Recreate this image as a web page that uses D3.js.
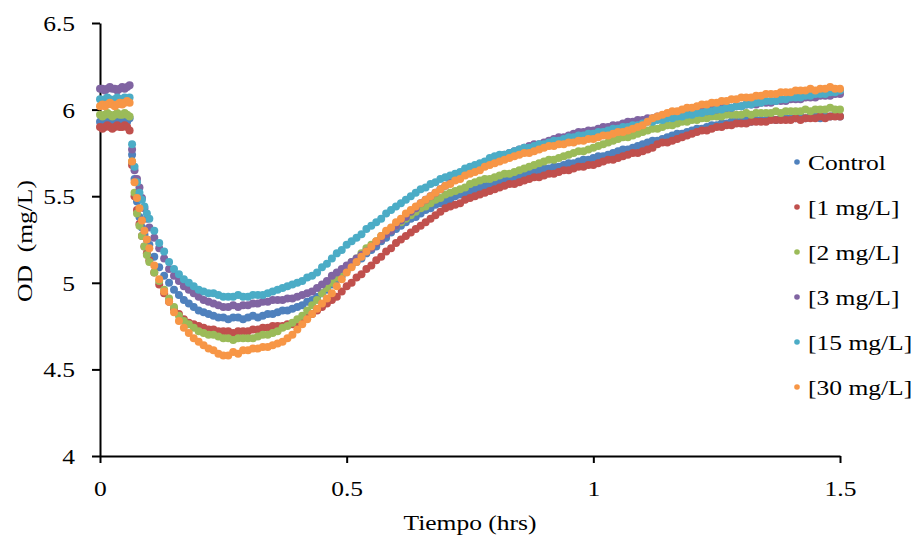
<!DOCTYPE html>
<html>
<head>
<meta charset="utf-8">
<script src="https://cdn.jsdelivr.net/npm/d3@7"></script>
<style>
html,body{margin:0;padding:0;background:#fff;}
svg{display:block;font-family:"Liberation Serif","Times New Roman",serif;}
</style>
</head>
<body>
<svg id="chart" width="919" height="539"></svg>
<script>
// ---------- DATA ----------
const times = [0,0.005,0.01,0.015,0.02,0.025,0.03,0.035,0.04,0.045,0.05,0.055,0.06,0.065,0.07,0.075,0.08,0.085,0.09,0.095,0.1,
0.11,0.12,0.13,0.14,0.15,0.16,0.17,0.18,0.19,0.2,
0.21,0.22,0.23,0.24,0.25,0.26,0.27,0.28,0.29,0.3,
0.31,0.32,0.33,0.34,0.35,0.36,0.37,0.38,0.39,0.4,
0.41,0.42,0.43,0.44,0.45,0.46,0.47,0.48,0.49,0.5,
0.51,0.52,0.53,0.54,0.55,0.56,0.57,0.58,0.59,0.6,
0.61,0.62,0.63,0.64,0.65,0.66,0.67,0.68,0.69,0.7,
0.71,0.72,0.73,0.74,0.75,0.76,0.77,0.78,0.79,0.8,
0.81,0.82,0.83,0.84,0.85,0.86,0.87,0.88,0.89,0.9,
0.91,0.92,0.93,0.94,0.95,0.96,0.97,0.98,0.99,1.0,
1.01,1.02,1.03,1.04,1.05,1.06,1.07,1.08,1.09,1.1,
1.11,1.12,1.13,1.14,1.15,1.16,1.17,1.18,1.19,1.2,
1.21,1.22,1.23,1.24,1.25,1.26,1.27,1.28,1.29,1.3,
1.31,1.32,1.33,1.34,1.35,1.36,1.37,1.38,1.39,1.4,
1.41,1.42,1.43,1.44,1.45,1.46,1.47,1.48,1.49,1.5];

const control = [5.93,5.92,5.93,5.94,5.93,5.92,5.93,5.94,5.93,5.93,5.94,5.93,5.95,
5.74,5.60,5.47,5.38,5.32,5.28,5.25,5.22,
5.15,5.09,5.04,5.00,4.96,4.93,4.90,4.88,4.86,4.84,
4.83,4.82,4.81,4.80,4.80,4.79,4.80,4.80,4.79,4.80,
4.81,4.80,4.81,4.82,4.82,4.83,4.84,4.84,4.85,4.86,
4.87,4.89,4.90,4.92,4.94,4.96,4.99,5.02,5.04,5.07,
5.10,5.12,5.14,5.17,5.19,5.21,5.24,5.26,5.29,5.31,
5.33,5.35,5.37,5.38,5.40,5.42,5.43,5.45,5.46,5.47,
5.48,5.50,5.51,5.52,5.53,5.54,5.55,5.56,5.56,5.57,
5.58,5.59,5.60,5.60,5.61,5.62,5.63,5.64,5.65,5.66,
5.66,5.67,5.67,5.68,5.69,5.69,5.70,5.71,5.71,5.72,
5.73,5.73,5.74,5.75,5.76,5.77,5.77,5.78,5.79,5.80,
5.81,5.82,5.82,5.83,5.84,5.85,5.86,5.86,5.87,5.88,
5.89,5.89,5.90,5.91,5.91,5.92,5.92,5.93,5.93,5.93,
5.94,5.93,5.94,5.94,5.94,5.95,5.94,5.95,5.95,5.95,
5.95,5.96,5.95,5.96,5.96,5.95,5.96,5.96,5.97,5.96];

const mg1 = [5.90,5.89,5.90,5.91,5.90,5.89,5.90,5.91,5.90,5.90,5.91,5.90,5.88,
5.68,5.50,5.42,5.34,5.27,5.21,5.17,5.13,
5.06,4.99,4.94,4.89,4.85,4.82,4.79,4.77,4.76,4.75,
4.74,4.73,4.73,4.72,4.72,4.72,4.71,4.72,4.72,4.72,
4.73,4.73,4.74,4.74,4.75,4.75,4.75,4.76,4.76,4.77,
4.78,4.80,4.82,4.84,4.86,4.88,4.90,4.92,4.95,4.98,
5.00,5.03,5.05,5.08,5.10,5.13,5.15,5.18,5.20,5.23,
5.25,5.27,5.29,5.31,5.33,5.35,5.37,5.39,5.41,5.43,
5.44,5.45,5.46,5.48,5.49,5.50,5.51,5.52,5.53,5.54,
5.55,5.56,5.57,5.57,5.58,5.59,5.60,5.61,5.61,5.62,
5.63,5.63,5.64,5.65,5.65,5.66,5.67,5.67,5.68,5.68,
5.69,5.70,5.71,5.71,5.72,5.73,5.74,5.75,5.75,5.76,
5.77,5.78,5.80,5.81,5.81,5.82,5.83,5.84,5.85,5.86,
5.87,5.88,5.88,5.89,5.90,5.90,5.91,5.91,5.92,5.92,
5.92,5.93,5.93,5.93,5.93,5.94,5.94,5.94,5.94,5.94,
5.95,5.94,5.95,5.95,5.95,5.96,5.95,5.96,5.96,5.96];

const mg2 = [5.97,5.96,5.97,5.98,5.97,5.96,5.97,5.98,5.97,5.97,5.98,5.97,5.96,
5.70,5.52,5.40,5.33,5.27,5.21,5.16,5.12,
5.06,5.01,4.96,4.91,4.86,4.81,4.78,4.76,4.74,4.72,
4.71,4.70,4.70,4.69,4.68,4.68,4.67,4.68,4.68,4.68,
4.68,4.69,4.70,4.70,4.71,4.72,4.74,4.75,4.77,4.79,
4.81,4.84,4.87,4.90,4.94,4.97,5.00,5.03,5.06,5.09,
5.12,5.14,5.17,5.20,5.22,5.24,5.27,5.29,5.31,5.33,
5.35,5.37,5.39,5.41,5.43,5.44,5.46,5.48,5.49,5.51,
5.52,5.53,5.54,5.55,5.57,5.58,5.59,5.60,5.60,5.61,
5.62,5.63,5.63,5.64,5.65,5.66,5.67,5.68,5.69,5.70,
5.71,5.71,5.72,5.73,5.74,5.75,5.76,5.76,5.77,5.78,
5.79,5.80,5.81,5.82,5.83,5.84,5.84,5.85,5.86,5.87,
5.88,5.89,5.89,5.90,5.91,5.91,5.92,5.93,5.93,5.94,
5.94,5.95,5.95,5.96,5.96,5.96,5.97,5.97,5.97,5.97,
5.98,5.97,5.98,5.98,5.98,5.98,5.99,5.98,5.99,5.99,
5.99,5.99,6.00,5.99,6.00,6.00,6.00,6.01,6.00,6.00];

const mg3 = [6.12,6.12,6.11,6.12,6.13,6.12,6.12,6.11,6.12,6.13,6.12,6.13,6.14,
5.77,5.65,5.60,5.55,5.49,5.43,5.37,5.32,
5.26,5.20,5.14,5.08,5.04,5.01,4.98,4.96,4.94,4.92,
4.90,4.89,4.88,4.87,4.86,4.86,4.87,4.86,4.87,4.87,
4.88,4.88,4.89,4.89,4.90,4.90,4.90,4.91,4.91,4.92,
4.93,4.94,4.95,4.97,4.99,5.01,5.04,5.06,5.08,5.10,
5.12,5.14,5.16,5.18,5.20,5.23,5.25,5.28,5.30,5.33,
5.36,5.38,5.41,5.43,5.46,5.48,5.50,5.52,5.54,5.56,
5.58,5.60,5.61,5.63,5.65,5.66,5.68,5.69,5.70,5.72,
5.73,5.74,5.75,5.76,5.77,5.78,5.79,5.80,5.80,5.81,
5.82,5.83,5.84,5.84,5.85,5.86,5.87,5.87,5.88,5.88,
5.89,5.90,5.90,5.91,5.91,5.92,5.93,5.93,5.94,5.94,
5.95,5.95,5.96,5.96,5.96,5.97,5.97,5.98,5.98,5.98,
5.99,5.99,5.99,6.00,6.00,6.01,6.01,6.01,6.02,6.02,
6.03,6.03,6.03,6.04,6.04,6.04,6.05,6.05,6.05,6.06,
6.06,6.06,6.07,6.07,6.07,6.08,6.08,6.08,6.09,6.09];

const mg15 = [6.06,6.05,6.06,6.07,6.06,6.05,6.06,6.07,6.06,6.06,6.07,6.06,6.07,
5.80,5.67,5.58,5.52,5.48,5.44,5.40,5.37,
5.30,5.23,5.18,5.12,5.08,5.05,5.02,5.00,4.98,4.96,
4.95,4.94,4.94,4.93,4.92,4.92,4.92,4.93,4.92,4.92,
4.93,4.93,4.93,4.94,4.95,4.96,4.97,4.98,4.99,5.00,
5.01,5.03,5.04,5.06,5.09,5.11,5.14,5.17,5.19,5.22,
5.24,5.26,5.28,5.31,5.33,5.35,5.37,5.40,5.42,5.44,
5.46,5.48,5.50,5.52,5.54,5.55,5.57,5.58,5.60,5.61,
5.62,5.63,5.64,5.66,5.67,5.68,5.69,5.70,5.72,5.73,
5.74,5.74,5.75,5.76,5.77,5.78,5.78,5.79,5.80,5.80,
5.81,5.82,5.82,5.83,5.84,5.84,5.85,5.85,5.86,5.86,
5.87,5.87,5.88,5.89,5.89,5.90,5.90,5.91,5.91,5.92,
5.93,5.93,5.94,5.94,5.95,5.95,5.96,5.96,5.97,5.97,
5.98,5.98,5.99,5.99,6.00,6.00,6.01,6.01,6.02,6.02,
6.03,6.03,6.04,6.04,6.05,6.05,6.05,6.06,6.06,6.07,
6.07,6.07,6.08,6.08,6.09,6.09,6.09,6.10,6.10,6.11];

const mg30 = [6.02,6.03,6.02,6.03,6.04,6.03,6.02,6.03,6.04,6.03,6.04,6.05,6.04,
5.70,5.58,5.49,5.43,5.36,5.30,5.25,5.20,
5.10,5.02,4.95,4.89,4.83,4.78,4.74,4.71,4.68,4.66,
4.64,4.62,4.61,4.59,4.58,4.58,4.60,4.59,4.61,4.61,
4.62,4.62,4.63,4.63,4.64,4.65,4.66,4.68,4.70,4.73,
4.76,4.79,4.82,4.85,4.88,4.91,4.94,4.98,5.02,5.06,
5.09,5.12,5.15,5.18,5.21,5.24,5.27,5.30,5.32,5.35,
5.37,5.40,5.42,5.44,5.46,5.48,5.50,5.52,5.54,5.56,
5.57,5.59,5.60,5.62,5.63,5.64,5.65,5.67,5.68,5.69,
5.70,5.71,5.72,5.73,5.74,5.75,5.75,5.76,5.77,5.78,
5.79,5.79,5.80,5.80,5.81,5.81,5.82,5.82,5.83,5.83,
5.84,5.85,5.85,5.86,5.87,5.87,5.88,5.89,5.90,5.91,
5.93,5.95,5.96,5.97,5.98,5.99,5.99,6.00,6.01,6.01,
6.02,6.03,6.03,6.04,6.04,6.05,6.05,6.06,6.06,6.07,
6.07,6.07,6.08,6.08,6.09,6.09,6.09,6.10,6.10,6.10,
6.11,6.11,6.11,6.12,6.11,6.12,6.12,6.13,6.12,6.12];

const seriesNames = ["Control","[1 mg/L]","[2 mg/L]","[3 mg/L]","[15 mg/L]","[30 mg/L]"];
const seriesValues = [control, mg1, mg2, mg3, mg15, mg30];
const seriesColors = ["#4F81BD","#C0504D","#9BBB59","#8064A2","#4BACC6","#F79646"];
const xTicks = [0, 0.5, 1, 1.5];
const yTicks = [4, 4.5, 5, 5.5, 6, 6.5];
const xTitle = "Tiempo (hrs)";
const yTitle = "OD\u00A0\u00A0(mg/L)";

// ---------- DRAW ----------
const svg = d3.select("#chart");
const SX = 1.16;          // horizontal text stretch of the original
const FS = 22;
const x = d3.scaleLinear().domain([0, 1.5]).range([100, 840]);
const y = d3.scaleLinear().domain([4, 6.5]).range([456, 23]);

// y axis
const gy = svg.append("g").attr("transform", "translate(100,0)")
  .call(d3.axisLeft(y).tickValues(yTicks).tickSize(8).tickSizeOuter(0).tickFormat(d => String(d)));
// x axis
const gx = svg.append("g").attr("transform", "translate(0,456)")
  .call(d3.axisBottom(x).tickValues(xTicks).tickSize(7).tickSizeOuter(0).tickFormat(d => String(d)));

[gx, gy].forEach(g => {
  g.select(".domain").attr("stroke", "#000").attr("stroke-width", 2);
  g.selectAll(".tick line").attr("stroke", "#000").attr("stroke-width", 2);
  g.selectAll(".tick text").attr("fill", "#000")
    .style("font-family", "'Liberation Serif','Times New Roman',serif")
    .style("font-size", FS + "px");
});
gy.selectAll(".tick text").attr("x", -25 / SX).attr("dy", null).attr("y", 7.5)
  .attr("text-anchor", "end").attr("transform", `scale(${SX},1)`);
gx.selectAll(".tick text").attr("y", 40).attr("dy", null)
  .attr("text-anchor", "middle").attr("transform", `scale(${SX},1)`);

// titles
svg.append("text").attr("transform", `translate(470,530) scale(${SX},1)`)
  .attr("text-anchor", "middle").attr("font-size", FS).attr("fill", "#000").text(xTitle);
svg.append("text").attr("transform", `translate(32,241) rotate(-90) scale(${SX},1)`)
  .attr("text-anchor", "middle").attr("font-size", FS).attr("fill", "#000").text(yTitle);

// points
seriesValues.forEach((vals, si) => {
  const pts = times.map((t, i) => ({ t, v: vals[i] })).filter(d => d.v != null);
  svg.append("g").selectAll("circle").data(pts).join("circle")
    .attr("cx", d => x(d.t)).attr("cy", d => y(d.v)).attr("r", 4)
    .attr("fill", seriesColors[si]);
});

// legend
const lg = svg.append("g");
seriesNames.forEach((name, i) => {
  const cy = 162 + i * 45;
  lg.append("circle").attr("cx", 797).attr("cy", cy).attr("r", 2.8).attr("fill", seriesColors[i]);
  lg.append("text").attr("transform", `translate(808,${cy + 8}) scale(${SX},1)`)
    .attr("font-size", FS).attr("fill", "#000").text(name);
});
</script>
</body>
</html>
